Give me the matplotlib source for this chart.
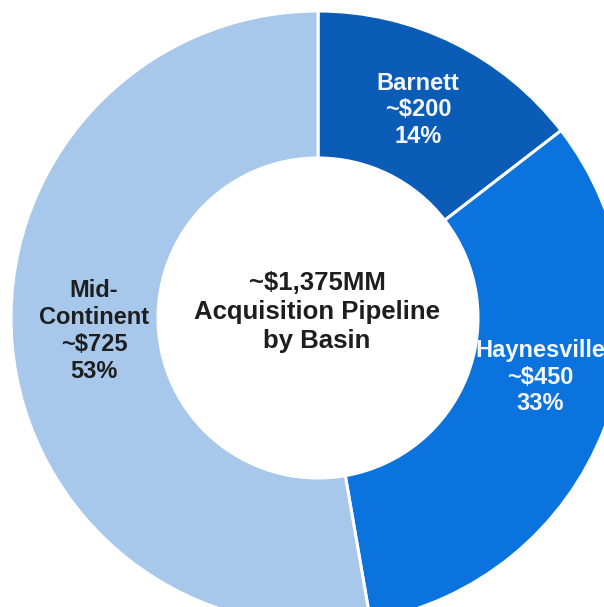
import matplotlib.pyplot as plt

# acquisition pipeline by basin ($MM)
basins = ["Barnett", "Haynesville", "Mid-Continent"]
values = [200, 450, 725]
pcts = [14, 33, 53]
label_names = ["Barnett", "Haynesville", "Mid-\nContinent"]
total_text = "~$1,375MM\nAcquisition Pipeline\nby Basin"

colors = ["#0a5cb6", "#0b73dd", "#a7c7eb"]
text_colors = ["#f4f6fa", "#f4f6fa", "#1e1e1e"]

plt.rcParams['font.family'] = ['Liberation Sans', 'DejaVu Sans']

fig = plt.figure(figsize=(6.04, 6.07), dpi=100)
ax = fig.add_axes([0, 0, 1, 1])

# donut, clockwise from 12 o'clock
ax.pie(values, colors=colors, startangle=90, counterclock=False,
       center=(318, 289), radius=307, frame=True,
       wedgeprops=dict(width=147, edgecolor='white', linewidth=2.2))
ax.set_xlim(0, 604)
ax.set_ylim(0, 607)
ax.set_aspect('equal')
ax.axis('off')

# slice labels
label_pos = [(418, 497), (540, 230), (94, 276)]
for name, v, p, (x, y), tc in zip(label_names, values, pcts, label_pos, text_colors):
    ax.text(x, y, f"{name}\n~${v}\n{p}%", ha='center', va='center',
            fontsize=17, fontweight='bold', color=tc, linespacing=1.22)

ax.text(317, 295, total_text, ha='center', va='center',
        fontsize=18.5, fontweight='bold', color='#1e1e1e', linespacing=1.25)

plt.savefig("out.png", dpi=100)
